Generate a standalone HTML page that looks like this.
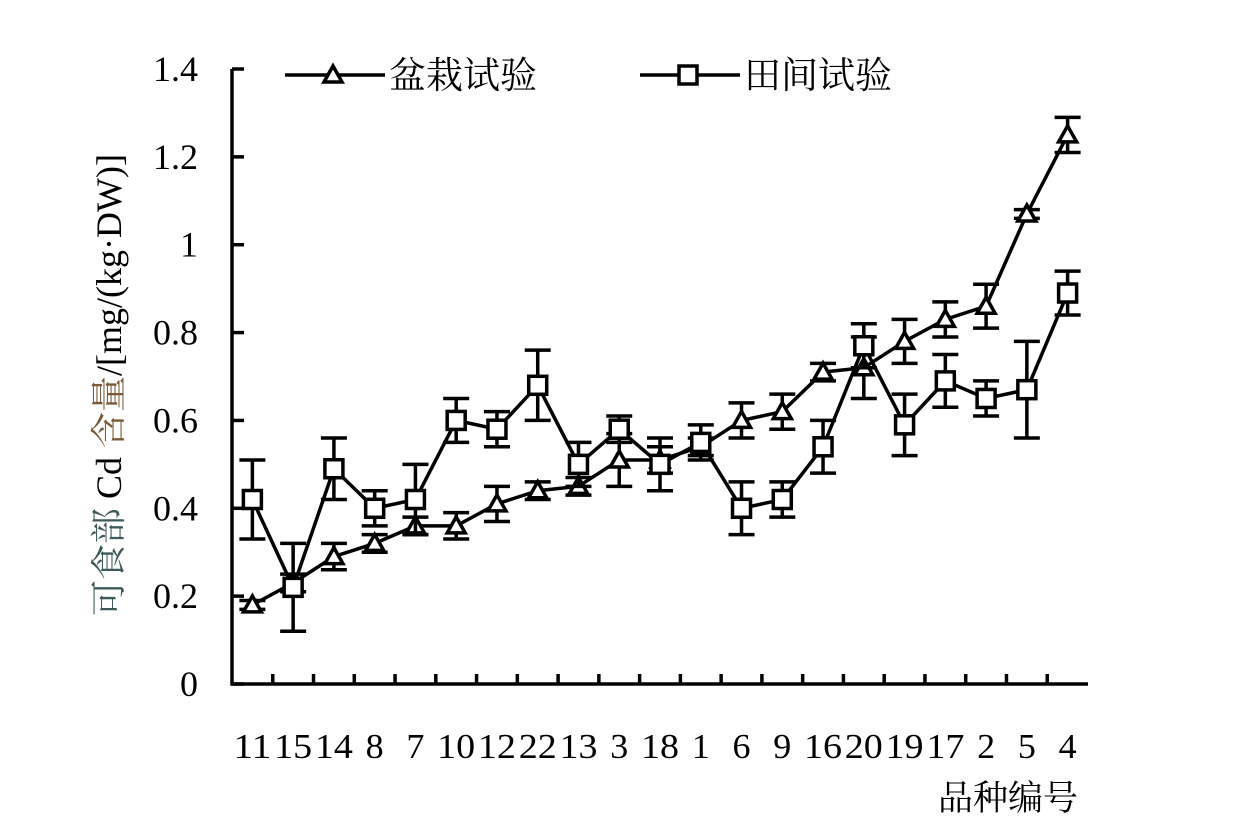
<!DOCTYPE html>
<html><head><meta charset="utf-8"><style>
body{margin:0;background:#fff}
svg text{font-family:"Liberation Serif","Noto Serif CJK SC","Noto Sans CJK SC",serif}
</style></head><body>
<svg id="chart" width="1251" height="830" xmlns="http://www.w3.org/2000/svg"></svg>
<script>
const categories=["11","15","14","8","7","10","12","22","13","3","18","1","6","9","16","20","19","17","2","5","4"];
const potValues=[0.18,0.23,0.29,0.32,0.36,0.36,0.41,0.44,0.45,0.51,0.51,0.54,0.60,0.62,0.71,0.72,0.78,0.83,0.86,1.07,1.25];
const potErrors=[0.01,0.02,0.03,0.02,0.02,0.03,0.04,0.02,0.02,0.06,0.03,0.02,0.04,0.04,0.02,0.07,0.05,0.04,0.05,0.01,0.04];
const fieldValues=[0.42,0.22,0.49,0.40,0.42,0.60,0.58,0.68,0.50,0.58,0.50,0.55,0.40,0.42,0.54,0.77,0.59,0.69,0.65,0.67,0.89];
const fieldErrors=[0.09,0.10,0.07,0.04,0.08,0.05,0.04,0.08,0.05,0.03,0.06,0.04,0.06,0.04,0.06,0.05,0.07,0.06,0.04,0.11,0.05];
const yTicks=[0,0.2,0.4,0.6,0.8,1,1.2,1.4];
const yTickLabels=["0","0.2","0.4","0.6","0.8","1","1.2","1.4"];
const svg=document.getElementById('chart');const NS='http://www.w3.org/2000/svg';
const X0=232,X1=1088,Y0=684,Y1=69,YMAX=1.4;
const step=(X1-X0)/categories.length;
const xs=i=>X0+step*(i+0.5);
const ys=v=>Y0-(v/YMAX)*(Y0-Y1);
const SW=3.5;
function mk(tag,attrs,parent){const e=document.createElementNS(NS,tag);for(const k in attrs)e.setAttribute(k,attrs[k]);(parent||svg).appendChild(e);return e;}
let a=mk('line',{x1:X0,y1:Y1,x2:X0,y2:Y0+1.5,stroke:'#000','stroke-width':SW});

a=mk('line',{x1:X0-1.5,y1:Y0,x2:X1,y2:Y0,stroke:'#000','stroke-width':SW});

yTicks.forEach((v,i)=>{
 const t=mk('line',{x1:X0,y1:ys(v),x2:X0+12,y2:ys(v),stroke:'#000','stroke-width':SW});
 
 const l=mk('text',{x:198,y:ys(v)+12,'text-anchor':'end','font-size':36});
 l.textContent=yTickLabels[i];
 
});
categories.forEach((c,i)=>{
 if(i>0){const t=mk('line',{x1:X0+step*i,y1:Y0,x2:X0+step*i,y2:Y0-10,stroke:'#000','stroke-width':SW});
 }
 const l=mk('text',{x:xs(i),y:758,'text-anchor':'middle','font-size':35,'textLength':c.length>1?38:18,'lengthAdjust':'spacingAndGlyphs'});
 l.textContent=c;
 
});
let xt=mk('text',{x:1078,y:810,'text-anchor':'end','font-size':35});xt.textContent='品种编号';

let yt=mk('text',{x:0,y:0,'text-anchor':'middle','font-size':36,transform:'translate(121,385) rotate(-90)'});
yt.innerHTML='<tspan fill="#3f5a5a">可食部</tspan> Cd <tspan fill="#7a5a3a">含量</tspan>/[mg/(kg·DW)]';

function series(vals,errs,shape,name){
 const g=mk('g',{});
 mk('polyline',{points:vals.map((v,i)=>xs(i)+','+ys(v)).join(' '),fill:'none',stroke:'#000','stroke-width':SW},g);
 vals.forEach((v,i)=>{
  const x=xs(i),y=ys(v),yt=ys(v+errs[i]),yb=ys(v-errs[i]);
  const e=mk('path',{d:`M${x},${yt}V${yb}M${x-13},${yt}H${x+13}M${x-13},${yb}H${x+13}`,stroke:'#000','stroke-width':SW,fill:'none'},g);
  
  drawMarker(g,shape,x,y,name+'-point');
 });
}
function drawMarker(g,shape,x,y,nm){
 let m;
 if(shape==='tri') m=mk('polygon',{points:`${x},${y-9} ${x-9},${y+7} ${x+9},${y+7}`,fill:'#fff',stroke:'#000','stroke-width':SW},g);
 else m=mk('rect',{x:x-9,y:y-9,width:18,height:18,fill:'#fff',stroke:'#000','stroke-width':SW},g);
 
}
series(potValues,potErrors,'tri','pot-trial');
series(fieldValues,fieldErrors,'sq','field-trial');
function legend(x1,label,shape,nm){
 const g=mk('g',{});
 mk('line',{x1:x1,y1:75,x2:x1+100,y2:75,stroke:'#000','stroke-width':SW},g);
 drawMarker(g,shape,x1+48,75,nm+'-marker');
 const t=mk('text',{x:x1+104,y:88,'font-size':37},g);t.textContent=label;
}
legend(285,'盆栽试验','tri','legend-pot-trial');
legend(640,'田间试验','sq','legend-field-trial');
</script>
</body></html>
